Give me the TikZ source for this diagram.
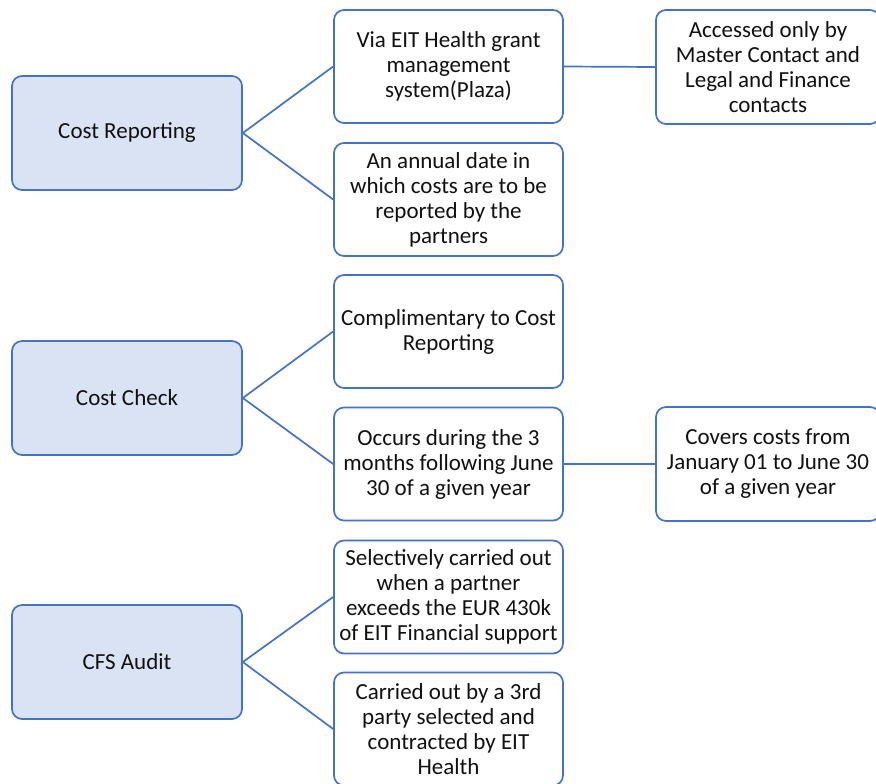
\documentclass[tikz,border=0pt]{standalone}
\usepackage{fontspec}
\setmainfont{Carlito}
\definecolor{boxline}{HTML}{4472C4}
\definecolor{boxfill}{HTML}{DAE3F3}
\definecolor{ink}{HTML}{111111}
\begin{document}
\begin{tikzpicture}[x=1pt,y=-1pt,
  base/.style={draw=boxline, line width=1.7pt, rounded corners=10pt,
    align=center, inner sep=0pt, text=ink,
    font=\fontsize{23}{25}\selectfont},
  topic/.style={base, fill=boxfill, minimum width=230pt, minimum height=114pt},
  detail/.style={base, fill=white, minimum width=229pt, minimum height=113pt},
  note/.style={base, fill=white, minimum width=224pt, minimum height=114pt},
  link/.style={draw=boxline, line width=1.7pt}]
\useasboundingbox (0,0) rectangle (876,784);

% topics
\node[topic] (cr) at (127,133) {Cost Reporting};
\node[topic] (cc) at (127,398) {Cost Check};
\node[topic] (ca) at (127,662) {CFS Audit};

% details
\node[detail] (d1) at (448.5,66.5) {Via EIT Health grant\\management\\system(Plaza)};
\node[detail] (d2) at (448.5,199.5) {An annual date in\\which costs are to be\\reported by the\\partners};
\node[detail] (d3) at (448.5,331.5) {Complimentary to Cost\\Reporting};
\node[detail] (d4) at (448.5,464) {Occurs during the 3\\months following June\\30 of a given year};
\node[detail] (d5) at (448.5,597) {Selectively carried out\\when a partner\\exceeds the EUR 430k\\of EIT Financial support};
\node[detail] (d6) at (448.5,729) {Carried out by a 3rd\\party selected and\\contracted by EIT\\Health};

% notes
\node[note] (n1) at (768,67) {Accessed only by\\Master Contact and\\Legal and Finance\\contacts};
\node[note] (n2) at (768,464) {Covers costs from\\January 01 to June 30\\of a given year};

% connectors
\draw[link] (cr.east) -- (d1.west);
\draw[link] (cr.east) -- (d2.west);
\draw[link] (cc.east) -- (d3.west);
\draw[link] (cc.east) -- (d4.west);
\draw[link] (ca.east) -- (d5.west);
\draw[link] (ca.east) -- (d6.west);
\draw[link] (d1.east) -- (n1.west);
\draw[link] (d4.east) -- (n2.west);
\end{tikzpicture}
\end{document}
